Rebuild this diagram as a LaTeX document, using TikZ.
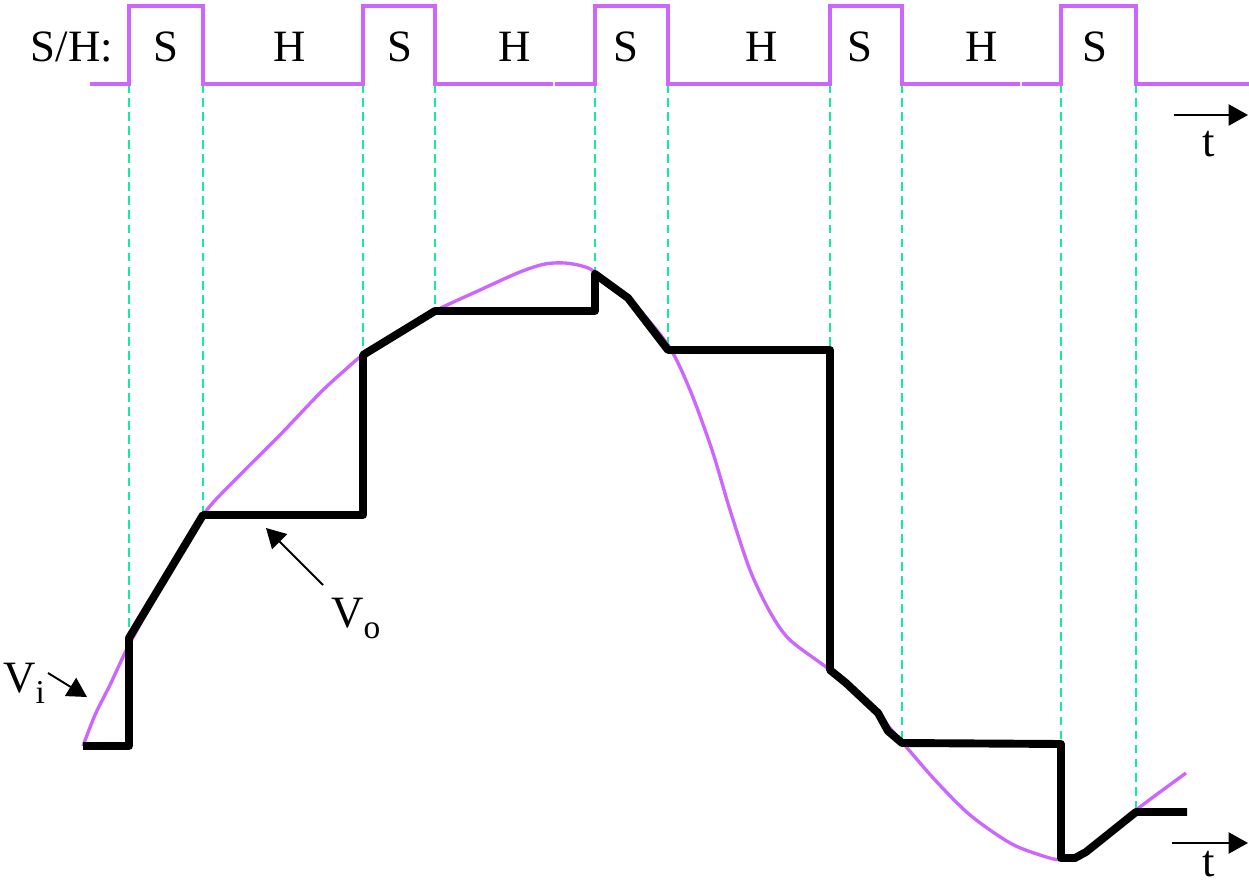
\documentclass[tikz,border=0pt]{standalone}
\usepackage{fontspec}
\setmainfont{Liberation Serif}
\usetikzlibrary{arrows.meta}
\definecolor{sig}{HTML}{CC66FF}
\definecolor{grid}{HTML}{11EE99}
\tikzset{
  sh/.style={draw=sig,line width=2pt},
  vi/.style={draw=sig,line width=1.9pt},
  vo/.style={draw=black,line width=4.5pt,line join=round},
  guide/.style={draw=grid,line width=1.1pt,dash pattern=on 5pt off 3pt},
  lbl/.style={font=\fontsize{25.5}{28}\selectfont,inner sep=0pt,anchor=base},
  ptr/.style={draw=black,line width=1.1pt,-{Triangle[length=11pt,width=12pt]}}
}
\newcommand{\sub}[1]{\raisebox{-6pt}{\fontsize{19}{20}\selectfont #1}}
\begin{document}
\begin{tikzpicture}[x=0.02cm,y=-0.02cm]
\useasboundingbox (0,0) rectangle (1249,888);
% guides
\foreach \x/\y in {129/638,203/515,363/355,435/311,595/272,668/350,830/670,902/742,1061/745,1136/810}
  \draw[guide] (\x,84) -- (\x,\y);
% S/H waveform
\draw[sh] (90,84) -- (129,84) -- (129,6) -- (203,6) -- (203,84) -- (363,84) -- (363,6) -- (435,6) -- (435,84) -- (553,84);
\draw[sh] (555,84) -- (595,84) -- (595,6) -- (668,6) -- (668,84) -- (830,84) -- (830,6) -- (902,6) -- (902,84) -- (1020,84);
\draw[sh] (1022,84) -- (1061,84) -- (1061,6) -- (1136,6) -- (1136,84) -- (1249,84);
\node[lbl] (shl) at (72,62) {S/H:};
\node[lbl] (s1) at (166,62) {S};
\node[lbl] (h1) at (290,62) {H};
\node[lbl] (s2) at (400,62) {S};
\node[lbl] (h2) at (515,62) {H};
\node[lbl] (s3) at (626,62) {S};
\node[lbl] (h3) at (762,62) {H};
\node[lbl] (s4) at (860,62) {S};
\node[lbl] (h4) at (982,62) {H};
\node[lbl] (s5) at (1095,62) {S};
% Vi curve
\draw[vi] plot[smooth,tension=0.5] coordinates {(83,746) (95,715) (110,685) (129,645) (165,580) (203,515) (240,475) (280,435) (320,393) (345,370) (363,355) (400,333) (435,311) (480,290) (520,272) (545,264) (565,263) (582,266) (595,272) (630,300) (668,345) (690,390) (712,450) (730,510) (750,570) (770,612) (790,640) (830,670) (865,700) (902,742) (935,780) (970,815) (1010,843) (1040,855) (1061,860) (1080,855) (1136,810) (1186,773)};
% Vo staircase
\draw[vo] (83,746) -- (129,746) -- (129,638) -- (203,515) -- (363,515) -- (363,355) -- (435,311) -- (595,311) -- (595,274) -- (628,298) -- (668,350) -- (830,350) -- (830,670) -- (846,683) -- (878,713) -- (888,731) -- (902,743) -- (1061,744) -- (1061,858) -- (1075,858) -- (1086,852) -- (1136,812) -- (1187,812);
% labels
\node[lbl,anchor=base west] (vil) at (3,693) {V\sub{i}};
\coordinate (vit) at (87,697);
\draw[ptr] (48,673) -- (vit);
\node[lbl,anchor=base west] (vol) at (331,628) {V\sub{o}};
\coordinate (vot) at (266,528);
\coordinate (vos) at (323,585);
\draw[ptr] (vos) -- (vot);
% time arrows
\coordinate (ta1) at (1174,115); \coordinate (tb1) at (1248,115);
\draw[ptr] (ta1) -- (tb1);
\node[lbl] (t1) at (1209,157) {t};
\coordinate (ta2) at (1172,843); \coordinate (tb2) at (1248,843);
\draw[ptr] (ta2) -- (tb2);
\node[lbl] (t2) at (1209,877) {t};
\end{tikzpicture}
\end{document}
